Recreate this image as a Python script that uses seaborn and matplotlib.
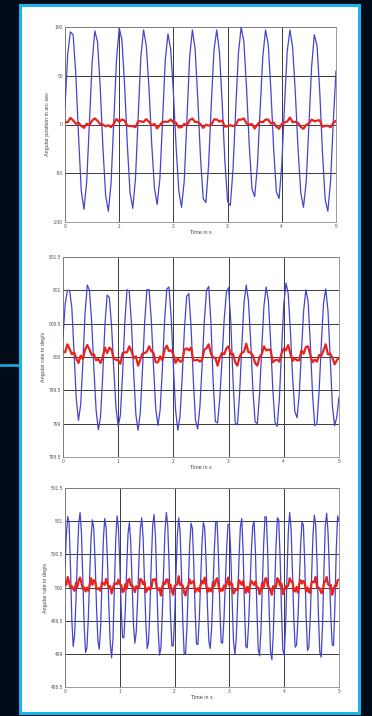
import numpy as np
import pandas as pd
import matplotlib
matplotlib.use("Agg")
import matplotlib.pyplot as plt
from matplotlib.patches import Rectangle
from matplotlib.lines import Line2D
import seaborn as sns

# --- data ---
# top: angular position (arc sec), one sample every 0.05 s
pos_meas = [18, 72, 95, 92, 51, -12, -68, -87, -59, 1, 63, 96, 85, 38, -24, -73, -89, -60, 3, 66,
            99, 87, 40, -21, -70, -86, -56, 8, 70, 97, 81, 37, -20, -65, -82, -56, 4, 66, 93, 77,
            33, -23, -68, -85, -58, 6, 69, 97, 78, 26, -34, -76, -80, -41, 22, 77, 97, 74, 22, -38,
            -79, -83, -46, 16, 73, 100, 85, 37, -22, -66, -74, -42, 15, 70, 97, 82, 34, -25, -69, -76,
            -41, 20, 75, 97, 79, 32, -25, -70, -85, -59, -1, 59, 92, 81, 34, -28, -77, -89, -58, 3, 55]
pos_ctrl = [2.5, 2.4, 6.8, 4.2, 0.8, 1.8, -1.5, -3.5, 0.9, -0.7, 4.0, 6.3, 3.7, 0.5, 0.0, -1.9, -0.8,
            -2.7, 0.9, 5.6, 2.7, 5.2, 3.9, -1.3, -1.6, -1.7, -2.7, 3.3, 3.3, 2.6, 5.5, 2.7, -0.8, 0.7,
            -4.0, -0.7, 2.7, 2.9, 2.7, 5.1, 2.3, 1.8, -3.0, -2.7, 0.7, -1.0, 4.5, 6.1, 2.6, 2.3, 0.4,
            -3.5, -0.2, -1.1, -0.4, 5.3, 5.1, 3.0, 4.1, -2.3, -1.7, -0.8, -1.6, -0.4, 4.9, 5.0, 6.2,
            1.2, -0.1, 0.4, -4.2, 0.1, 2.9, 2.3, 5.1, 5.0, 0.9, 2.0, -2.3, -4.3, 0.6, 2.1, 3.0, 7.1,
            2.4, 2.8, 1.5, -2.6, -4.4, -0.4, 1.0, 5.1, 3.4, 4.0, 4.4, -2.4, -1.3, -1.3, -2.8, 1.4, 4.0]

# middle: angular rate around 800 deg/s, one sample every 0.04 s
rate800_meas = [800.30, 800.80, 801.00, 801.00, 800.74, 800.07, 799.38, 799.05, 799.28, 799.92,
                800.66, 801.08, 801.00, 800.52, 799.82, 799.20, 798.91, 799.10, 799.73, 800.49,
                800.93, 800.89, 800.46, 799.82, 799.24, 798.96, 799.13, 799.76, 800.52, 801.01,
                800.99, 800.50, 799.77, 799.14, 798.90, 799.16, 799.81, 800.53, 801.01, 801.01,
                800.55, 799.85, 799.23, 798.97, 799.21, 799.82, 800.54, 801.02, 801.05, 800.59,
                799.86, 799.20, 798.90, 799.11, 799.71, 800.42, 800.91, 800.95, 800.45, 799.67,
                799.05, 798.92, 799.25, 799.87, 800.54, 801.00, 801.06, 800.51, 799.64, 799.03,
                799.01, 799.37, 799.95, 800.56, 800.97, 801.04, 800.52, 799.65, 799.01, 798.98,
                799.46, 800.18, 800.82, 801.08, 800.84, 800.23, 799.51, 799.03, 799.00, 799.43,
                800.12, 800.76, 801.05, 800.85, 800.25, 799.53, 799.02, 798.96, 799.38, 800.11,
                800.79, 801.11, 800.95, 800.38, 799.69, 799.18, 799.09, 799.45, 800.09, 800.70,
                801.01, 800.84, 800.21, 799.45, 798.97, 799.00, 799.49, 800.20, 800.81, 801.02,
                800.70, 799.99, 799.27, 798.97, 799.10, 799.40]
rate800_ctrl = [800.08, 800.07, 800.19, 800.12, 800.04, 800.07, 799.98, 799.91, 800.02, 799.97,
                800.11, 800.18, 800.11, 800.03, 800.04, 799.95, 799.97, 799.91, 800.00, 800.14,
                800.06, 800.14, 800.11, 799.97, 799.96, 799.95, 799.90, 800.06, 800.07, 800.07,
                800.16, 800.09, 799.98, 800.01, 799.87, 799.96, 800.05, 800.06, 800.08, 800.16,
                800.09, 800.06, 799.92, 799.92, 800.01, 799.95, 800.11, 800.17, 800.09, 800.10,
                800.04, 799.91, 799.98, 799.93, 799.94, 800.11, 800.13, 800.10, 800.14, 799.95,
                799.95, 799.96, 799.93, 799.96, 800.11, 800.13, 800.19, 800.05, 799.99, 799.99,
                799.87, 799.99, 800.06, 800.04, 800.13, 800.16, 800.04, 800.05, 799.92, 799.87,
                800.01, 800.06, 800.08, 800.20, 800.07, 800.07, 800.02, 799.91, 799.87, 800.00,
                800.04, 800.16, 800.10, 800.11, 800.11, 799.92, 799.95, 799.96, 799.93, 800.05,
                800.13, 800.10, 800.18, 800.05, 799.94, 799.98, 799.95, 799.95, 800.10, 800.05,
                800.15, 800.16, 800.03, 799.92, 799.96, 799.93, 800.03, 800.02, 800.10, 800.19,
                800.04, 800.05, 799.99, 799.89, 799.95, 799.99]

# bottom: angular rate around 500 deg/s, one sample every 0.025 s
rate500_meas = [500.30, 500.80, 501.07, 500.97, 500.31, 499.50, 499.11, 499.28, 499.80, 500.44,
                500.96, 501.13, 500.83, 500.15, 499.43, 499.02, 499.09, 499.53, 500.17, 500.74,
                501.02, 500.89, 500.38, 499.71, 499.20, 499.07, 499.41, 500.07, 500.72, 501.04,
                500.90, 500.39, 499.72, 499.17, 498.94, 499.22, 499.94, 500.71, 501.08, 500.90,
                500.35, 499.69, 499.25, 499.24, 499.65, 500.28, 500.81, 500.98, 500.67, 500.04,
                499.43, 499.16, 499.33, 499.82, 500.42, 500.89, 501.05, 500.76, 500.13, 499.46,
                499.08, 499.18, 499.69, 500.38, 500.93, 501.10, 500.78, 500.08, 499.36, 498.98,
                499.09, 499.59, 500.27, 500.86, 501.13, 500.93, 500.32, 499.59, 499.12, 499.12,
                499.54, 500.19, 500.78, 501.05, 500.85, 500.22, 499.48, 499.00, 499.00, 499.40,
                500.02, 500.63, 500.97, 500.89, 500.35, 499.64, 499.15, 499.14, 499.52, 500.11,
                500.67, 500.98, 500.89, 500.38, 499.70, 499.19, 499.08, 499.38, 499.95, 500.57,
                500.98, 501.00, 500.48, 499.71, 499.17, 499.16, 499.51, 500.06, 500.60, 500.95,
                500.95, 500.51, 499.81, 499.19, 498.99, 499.23, 499.78, 500.43, 500.91, 501.04,
                500.56, 499.72, 499.11, 499.09, 499.44, 499.97, 500.53, 500.92, 501.00, 500.54,
                499.73, 499.08, 498.97, 499.34, 499.98, 500.65, 501.07, 501.06, 500.50, 499.68,
                499.04, 498.91, 499.28, 499.94, 500.62, 501.05, 501.02, 500.46, 499.67, 499.06,
                498.98, 499.41, 500.16, 500.84, 501.13, 500.89, 500.26, 499.54, 499.10, 499.13,
                499.51, 500.08, 500.64, 500.99, 500.94, 500.36, 499.56, 499.05, 499.10, 499.54,
                500.19, 500.79, 501.09, 500.94, 500.34, 499.58, 499.02, 498.95, 499.44, 500.25,
                500.93, 501.12, 500.83, 500.23, 499.58, 499.14, 499.12, 499.72, 500.57, 501.08,
                501.00]
rate500_ctrl = [500.07, 500.04, 500.16, 500.08, 500.00, 500.02, 499.98, 499.95, 500.07, 500.01,
                500.11, 500.15, 500.07, 499.98, 500.00, 499.94, 500.00, 499.95, 500.03, 500.14,
                500.04, 500.11, 500.09, 499.98, 499.98, 499.99, 499.95, 500.08, 500.06, 500.04,
                500.13, 500.06, 499.99, 500.02, 499.91, 499.99, 500.06, 500.06, 500.05, 500.12,
                500.05, 500.04, 499.93, 499.95, 500.05, 499.98, 500.11, 500.13, 500.03, 500.03,
                500.00, 499.93, 500.02, 499.99, 499.99, 500.13, 500.11, 500.05, 500.09, 499.93,
                499.96, 500.00, 499.97, 499.99, 500.12, 500.11, 500.13, 499.99, 499.96, 499.99,
                499.88, 500.01, 500.08, 500.05, 500.12, 500.12, 500.00, 500.04, 499.94, 499.89,
                500.02, 500.04, 500.05, 500.17, 500.04, 500.05, 500.02, 499.92, 499.88, 500.00,
                500.02, 500.12, 500.06, 500.08, 500.10, 499.93, 499.97, 499.99, 499.94, 500.04,
                500.10, 500.06, 500.15, 500.04, 499.93, 499.99, 499.95, 499.94, 500.08, 500.02,
                500.11, 500.14, 500.04, 499.94, 499.98, 499.95, 500.03, 499.99, 500.06, 500.15,
                500.03, 500.08, 500.04, 499.91, 499.95, 499.98, 499.96, 500.11, 500.08, 500.04,
                500.10, 500.00, 499.92, 500.01, 499.93, 500.03, 500.10, 500.07, 500.04, 500.09,
                500.00, 500.00, 499.90, 499.96, 500.07, 500.01, 500.13, 500.14, 500.02, 500.00,
                499.96, 499.89, 500.02, 500.00, 500.01, 500.14, 500.11, 500.03, 500.06, 499.90,
                499.95, 500.02, 500.01, 500.03, 500.14, 500.09, 500.09, 499.95, 499.94, 500.01,
                499.92, 500.05, 500.11, 500.06, 500.10, 500.07, 499.94, 500.00, 499.93, 499.92,
                500.07, 500.09, 500.08, 500.16, 500.00, 500.00, 499.98, 499.92, 499.92, 500.07,
                500.09, 500.16, 500.05, 500.03, 500.04, 499.89, 499.97, 500.03, 500.02, 500.11,
                500.12]

time_ticks = [0, 1, 2, 3, 4, 5]
pos_ticks = [-100, -50, 0, 50, 100]
pos_labels = ["-100", "-50", "0", "50", "100"]
rate800_ticks = [798.5, 799, 799.5, 800, 800.5, 801, 801.5]
rate800_labels = ["798.5", "799", "799.5", "800", "800.5", "801", "801.5"]
rate500_ticks = [498.5, 499, 499.5, 500, 500.5, 501, 501.5]
rate500_labels = ["498.5", "499", "499.5", "500", "500.5", "501", "501.5"]

BG = "#020b18"
CYAN = "#18b4ea"
BLUE = "#4545cc"
RED = "#ea221c"

sns.set_theme(style="white")
plt.rcParams["font.family"] = ["Liberation Sans", "DejaVu Sans"]

fig = plt.figure(figsize=(3.72, 7.16), dpi=100, facecolor=BG)

# white panel with cyan frame (kept below the axes), plus the connector line on the left
fig.patches.append(Rectangle((19.5 / 372, 1 - 713 / 716), 339.5 / 372, 708 / 716,
                             transform=fig.transFigure, facecolor="white",
                             edgecolor=CYAN, linewidth=2.2, zorder=-5))
fig.lines.append(Line2D([0, 19 / 372], [1 - 365 / 716, 1 - 365 / 716],
                        transform=fig.transFigure, color=CYAN, linewidth=1.8, zorder=-5))


def draw_panel(rect, meas, ctrl, yticks, ylabels, ylabel):
    ax = fig.add_axes(rect)
    t_meas = np.linspace(0, 5, len(meas))
    t_ctrl = np.linspace(0, 5, len(ctrl))
    sns.lineplot(x=t_meas, y=meas, ax=ax, color=BLUE, linewidth=0.9,
                 estimator=None, sort=False, zorder=3)
    sns.lineplot(x=t_ctrl, y=ctrl, ax=ax, color=RED, linewidth=1.6,
                 estimator=None, sort=False, zorder=4)
    ax.set_xlim(0, 5)
    ax.set_ylim(yticks[0], yticks[-1])
    ax.set_xticks(time_ticks)
    ax.set_xticklabels([str(v) for v in time_ticks])
    ax.set_yticks(yticks)
    ax.set_yticklabels(ylabels)
    ax.grid(True, color="#3a3a3a", linewidth=0.7)
    ax.set_axisbelow(True)
    for s in ax.spines.values():
        s.set_color("#8a8a8a")
        s.set_linewidth(0.6)
    ax.tick_params(axis="both", labelsize=3.5, colors="#555555", length=1.2,
                   width=0.4, pad=1.5, direction="in")
    ax.set_xlabel("Time in s", fontsize=3.9, color="#444444", labelpad=1)
    ax.set_ylabel(ylabel, fontsize=3.9, color="#444444", labelpad=2)
    ax.set_facecolor("white")
    return ax


draw_panel([65 / 372, 1 - 222 / 716, 271 / 372, 195 / 716],
           pos_meas, pos_ctrl, pos_ticks, pos_labels, "Angular position in arc sec")
draw_panel([63 / 372, 1 - 457 / 716, 276 / 372, 200 / 716],
           rate800_meas, rate800_ctrl, rate800_ticks, rate800_labels, "Angular rate in deg/s")
draw_panel([65 / 372, 1 - 687 / 716, 274 / 372, 199 / 716],
           rate500_meas, rate500_ctrl, rate500_ticks, rate500_labels, "Angular rate in deg/s")

fig.savefig("out.png", dpi=100, facecolor=BG)
